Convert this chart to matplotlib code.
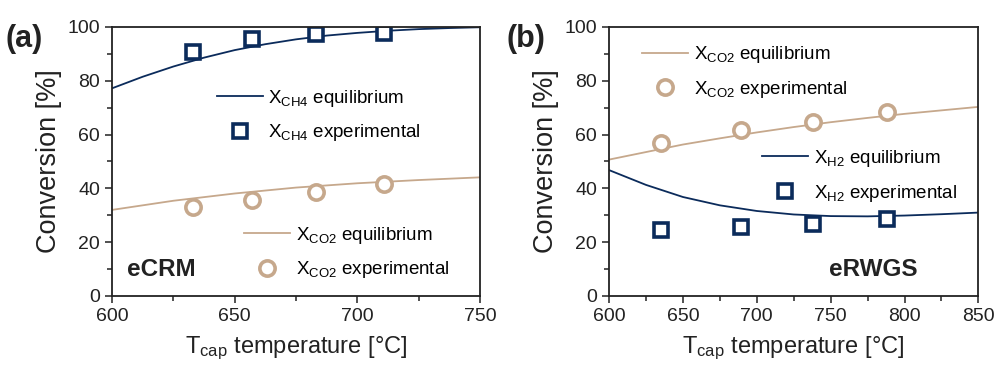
import matplotlib
matplotlib.use("Agg")
import matplotlib.pyplot as plt
from matplotlib.ticker import MultipleLocator

plt.rcParams['font.family'] = ['Liberation Sans', 'DejaVu Sans']
plt.rcParams['mathtext.fontset'] = 'custom'
plt.rcParams['mathtext.rm'] = 'Liberation Sans'
plt.rcParams['mathtext.it'] = 'Liberation Sans:italic'
plt.rcParams['mathtext.bf'] = 'Liberation Sans:bold'

NAVY = '#0b2b5b'
TAN = '#c6a88c'
INK = '#222222'

# Panel (a) eCRM
a_eq_T = [600, 612.5, 625, 637.5, 650, 662.5, 675, 687.5, 700, 712.5, 725, 737.5, 750]
a_ch4_eq = [77.2, 81.5, 85.3, 88.6, 91.4, 93.6, 95.4, 96.8, 97.8, 98.6, 99.2, 99.6, 99.9]
a_co2_eq_T = [600, 625, 650, 675, 700, 725, 750]
a_co2_eq = [32.0, 35.4, 38.1, 40.3, 41.9, 43.1, 44.1]
a_exp_T = [633, 657, 683, 711]
a_ch4_exp = [90.6, 95.4, 97.3, 97.8]
a_co2_exp = [33.0, 35.8, 38.8, 41.6]

# Panel (b) eRWGS
b_eq_T = [600, 625, 650, 675, 700, 725, 750, 775, 800, 825, 850]
b_co2_eq = [50.7, 53.5, 56.3, 58.6, 60.8, 62.8, 64.6, 66.2, 67.7, 69.0, 70.3]
b_h2_eq = [46.8, 41.3, 36.8, 33.7, 31.6, 30.3, 29.7, 29.6, 29.9, 30.4, 31.0]
b_exp_T = [635, 689, 738, 788]
b_co2_exp = [56.9, 61.6, 64.7, 68.3]
b_h2_exp = [24.5, 25.8, 26.9, 28.8]

fig = plt.figure(figsize=(9.94, 3.67), dpi=100)
axA = fig.add_axes([0.1127, 0.1935, 0.3702, 0.733])
axB = fig.add_axes([0.6127, 0.1935, 0.3716, 0.733])

sq = dict(marker='s', ms=9.5, mfc='white', mec=NAVY, mew=2.6, ls='none')
ci = dict(marker='o', ms=11, mfc='white', mec=TAN, mew=2.6, ls='none')

for ax in (axA, axB):
    ax.set_ylim(0, 100)
    ax.yaxis.set_major_locator(MultipleLocator(20))
    ax.yaxis.set_minor_locator(MultipleLocator(10))
    ax.xaxis.set_major_locator(MultipleLocator(50))
    ax.xaxis.set_minor_locator(MultipleLocator(25))
    ax.tick_params(which='both', direction='out', top=False, right=False,
                   labelsize=14, colors=INK, width=1.1)
    ax.tick_params(which='major', length=5)
    ax.tick_params(which='minor', length=3.5)
    for s in ax.spines.values():
        s.set_linewidth(1.3)
        s.set_color(INK)
    ax.set_ylabel('Conversion [%]', fontsize=19.5, color=INK, labelpad=4)
    ax.set_xlabel(r'T$_{\mathrm{cap}}$ temperature [°C]', fontsize=17, color=INK, labelpad=7)

legkw = dict(frameon=False, fontsize=13.5, handlelength=2.45, handletextpad=0.3,
             labelspacing=0.72, borderaxespad=0, borderpad=0, loc='upper left')

# Panel A
axA.set_xlim(600, 750)
l1, = axA.plot(a_eq_T, a_ch4_eq, color=NAVY, lw=1.3)
l2, = axA.plot(a_co2_eq_T, a_co2_eq, color=TAN, lw=1.3)
m1, = axA.plot(a_exp_T, a_ch4_exp, **sq)
m2, = axA.plot(a_exp_T, a_co2_exp, **ci)

legA1 = axA.legend([l1, m1], [r'X$_{\mathrm{CH4}}$ equilibrium', r'X$_{\mathrm{CH4}}$ experimental'],
                   bbox_to_anchor=(0.285, 0.774), **legkw)
axA.add_artist(legA1)
axA.legend([l2, m2], [r'X$_{\mathrm{CO2}}$ equilibrium', r'X$_{\mathrm{CO2}}$ experimental'],
           bbox_to_anchor=(0.36, 0.264), **legkw)
axA.text(0.04, 0.075, 'eCRM', transform=axA.transAxes, fontsize=17.5, fontweight='bold', color=INK)

# Panel B
axB.set_xlim(600, 850)
l3, = axB.plot(b_eq_T, b_co2_eq, color=TAN, lw=1.3)
l4, = axB.plot(b_eq_T, b_h2_eq, color=NAVY, lw=1.3)
m3, = axB.plot(b_exp_T, b_co2_exp, **ci)
m4, = axB.plot(b_exp_T, b_h2_exp, **sq)
legB1 = axB.legend([l3, m3], [r'X$_{\mathrm{CO2}}$ equilibrium', r'X$_{\mathrm{CO2}}$ experimental'],
                   bbox_to_anchor=(0.09, 0.935), **legkw)
axB.add_artist(legB1)
axB.legend([l4, m4], [r'X$_{\mathrm{H2}}$ equilibrium', r'X$_{\mathrm{H2}}$ experimental'],
           bbox_to_anchor=(0.415, 0.55), **legkw)
axB.text(0.595, 0.075, 'eRWGS', transform=axB.transAxes, fontsize=17.5, fontweight='bold', color=INK)

fig.text(0.006, 0.872, '(a)', fontsize=22, fontweight='bold', color=INK)
fig.text(0.51, 0.872, '(b)', fontsize=22, fontweight='bold', color=INK)

fig.savefig('out.png', dpi=100)
